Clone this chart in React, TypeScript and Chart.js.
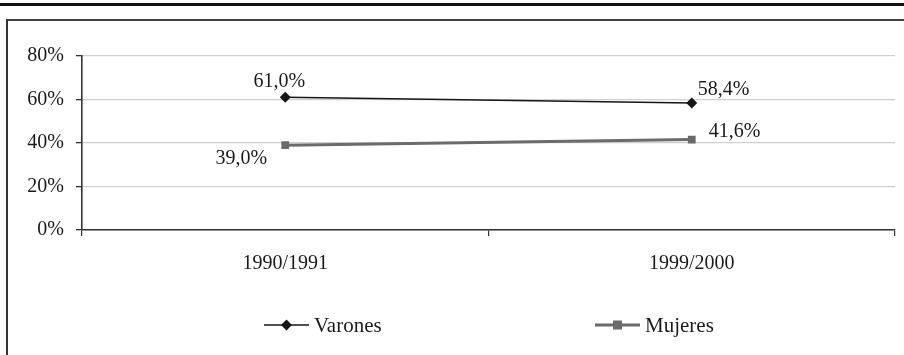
import React, { useEffect, useRef } from "react";
import { Chart, registerables } from "chart.js";

Chart.register(...registerables);

const categories = ["1990/1991", "1999/2000"];
const varones = [61.0, 58.4];
const mujeres = [39.0, 41.6];
const seriesNames = ["Varones", "Mujeres"];
const yTicks = [0, 20, 40, 60, 80];

const FONT = "'Liberation Serif', 'Times New Roman', serif";
const fmt = (v: number) => v.toFixed(1).replace(".", ",") + "%";

// label placement per dataset/point: [dx, dy, align]
const labelPlacement: [number, number, CanvasTextAlign][][] = [
  [
    [-6, -16, "center"],
    [6, -13, "left"],
  ],
  [
    [-44, 14, "center"],
    [17, -8, "left"],
  ],
];

const legendStarts = [264, 595];

const dataLabelPlugin = {
  id: "dataLabels",
  afterDatasetsDraw(chart: any) {
    const ctx = chart.ctx;
    ctx.save();
    ctx.font = `20px ${FONT}`;
    ctx.fillStyle = "#1a1a1a";
    ctx.textBaseline = "middle";
    chart.data.datasets.forEach((ds: any, di: number) => {
      const meta = chart.getDatasetMeta(di);
      meta.data.forEach((pt: any, i: number) => {
        const [dx, dy, align] = labelPlacement[di][i];
        ctx.textAlign = align;
        ctx.fillText(fmt(ds.data[i]), pt.x + dx, pt.y + dy);
      });
    });
    ctx.restore();
  },
};

const legendPlugin = {
  id: "customLegend",
  afterDraw(chart: any) {
    const ctx = chart.ctx;
    const y = 325;
    ctx.save();
    chart.data.datasets.forEach((ds: any, di: number) => {
      const x0 = legendStarts[di];
      const x1 = x0 + 45;
      ctx.strokeStyle = ds.borderColor;
      ctx.lineWidth = ds.borderWidth;
      ctx.beginPath();
      ctx.moveTo(x0, y);
      ctx.lineTo(x1, y);
      ctx.stroke();
      ctx.fillStyle = ds.pointBackgroundColor;
      const cx = (x0 + x1) / 2;
      ctx.beginPath();
      if (ds.pointStyle === "rectRot") {
        ctx.moveTo(cx, y - 5.5);
        ctx.lineTo(cx + 5.5, y);
        ctx.lineTo(cx, y + 5.5);
        ctx.lineTo(cx - 5.5, y);
        ctx.closePath();
        ctx.fill();
      } else {
        ctx.fillRect(cx - 4.5, y - 4.5, 9, 9);
      }
      ctx.fillStyle = "#1a1a1a";
      ctx.font = `21px ${FONT}`;
      ctx.textAlign = "left";
      ctx.textBaseline = "middle";
      ctx.fillText(ds.label, x1 + 5, y + 1);
    });
    ctx.restore();
  },
};

export default function App() {
  const ref = useRef<HTMLCanvasElement>(null);

  useEffect(() => {
    document.body.style.margin = "0";
    const chart = new Chart(ref.current!, {
      type: "line",
      data: {
        labels: categories,
        datasets: [
          {
            label: seriesNames[0],
            data: varones,
            borderColor: "#151515",
            backgroundColor: "#151515",
            pointBackgroundColor: "#151515",
            pointBorderColor: "#151515",
            borderWidth: 1.6,
            pointStyle: "rectRot",
            pointRadius: 5.5,
            pointBorderWidth: 0,
          },
          {
            label: seriesNames[1],
            data: mujeres,
            borderColor: "#6b6b6b",
            backgroundColor: "#6b6b6b",
            pointBackgroundColor: "#6b6b6b",
            pointBorderColor: "#6b6b6b",
            borderWidth: 3,
            pointStyle: "rect",
            pointRadius: 5.5,
            pointBorderWidth: 0,
          },
        ] as any,
      },
      options: {
        animation: false,
        responsive: false,
        maintainAspectRatio: false,
        layout: { padding: { top: 56, right: 9, left: 0, bottom: 0 } },
        plugins: {
          legend: { display: false },
          tooltip: { enabled: false },
        },
        scales: {
          x: {
            type: "category",
            offset: true,
            grid: {
              offset: true,
              drawOnChartArea: false,
              drawTicks: true,
              tickLength: 6,
              tickColor: "#333",
              lineWidth: 1.2,
            },
            border: { color: "#333", width: 1.6 },
            ticks: {
              color: "#1a1a1a",
              font: { family: FONT, size: 20 },
              padding: 16,
              maxRotation: 0,
            },
            afterFit(scale: any) {
              scale.height = 125;
            },
          },
          y: {
            min: 0,
            max: 80,
            afterBuildTicks(scale: any) {
              scale.ticks = yTicks.map((v) => ({ value: v }));
            },
            grid: {
              color: "#cfcfcf",
              lineWidth: 1.3,
              drawTicks: true,
              tickLength: 6,
              tickColor: "#333",
            },
            border: { color: "#333", width: 1.6 },
            ticks: {
              color: "#1a1a1a",
              font: { family: FONT, size: 20 },
              padding: 12,
              callback: (v: any) => `${v}%`,
            },
            afterFit(scale: any) {
              scale.width = 82;
            },
          },
        },
      },
      plugins: [dataLabelPlugin, legendPlugin],
    } as any);
    return () => chart.destroy();
  }, []);

  return (
    <div style={{ position: "relative", width: 904, height: 355, background: "#fff", overflow: "hidden" }}>
      <div style={{ position: "absolute", left: 0, top: 3, width: 904, height: 3, background: "#111" }} />
      <div
        style={{
          position: "absolute",
          left: 6,
          top: 19,
          width: 920,
          height: 360,
          borderLeft: "2px solid #333",
          borderTop: "2px solid #444",
          boxSizing: "border-box",
        }}
      />
      <canvas ref={ref} width={904} height={355} style={{ position: "absolute", left: 0, top: 0 }} />
    </div>
  );
}
